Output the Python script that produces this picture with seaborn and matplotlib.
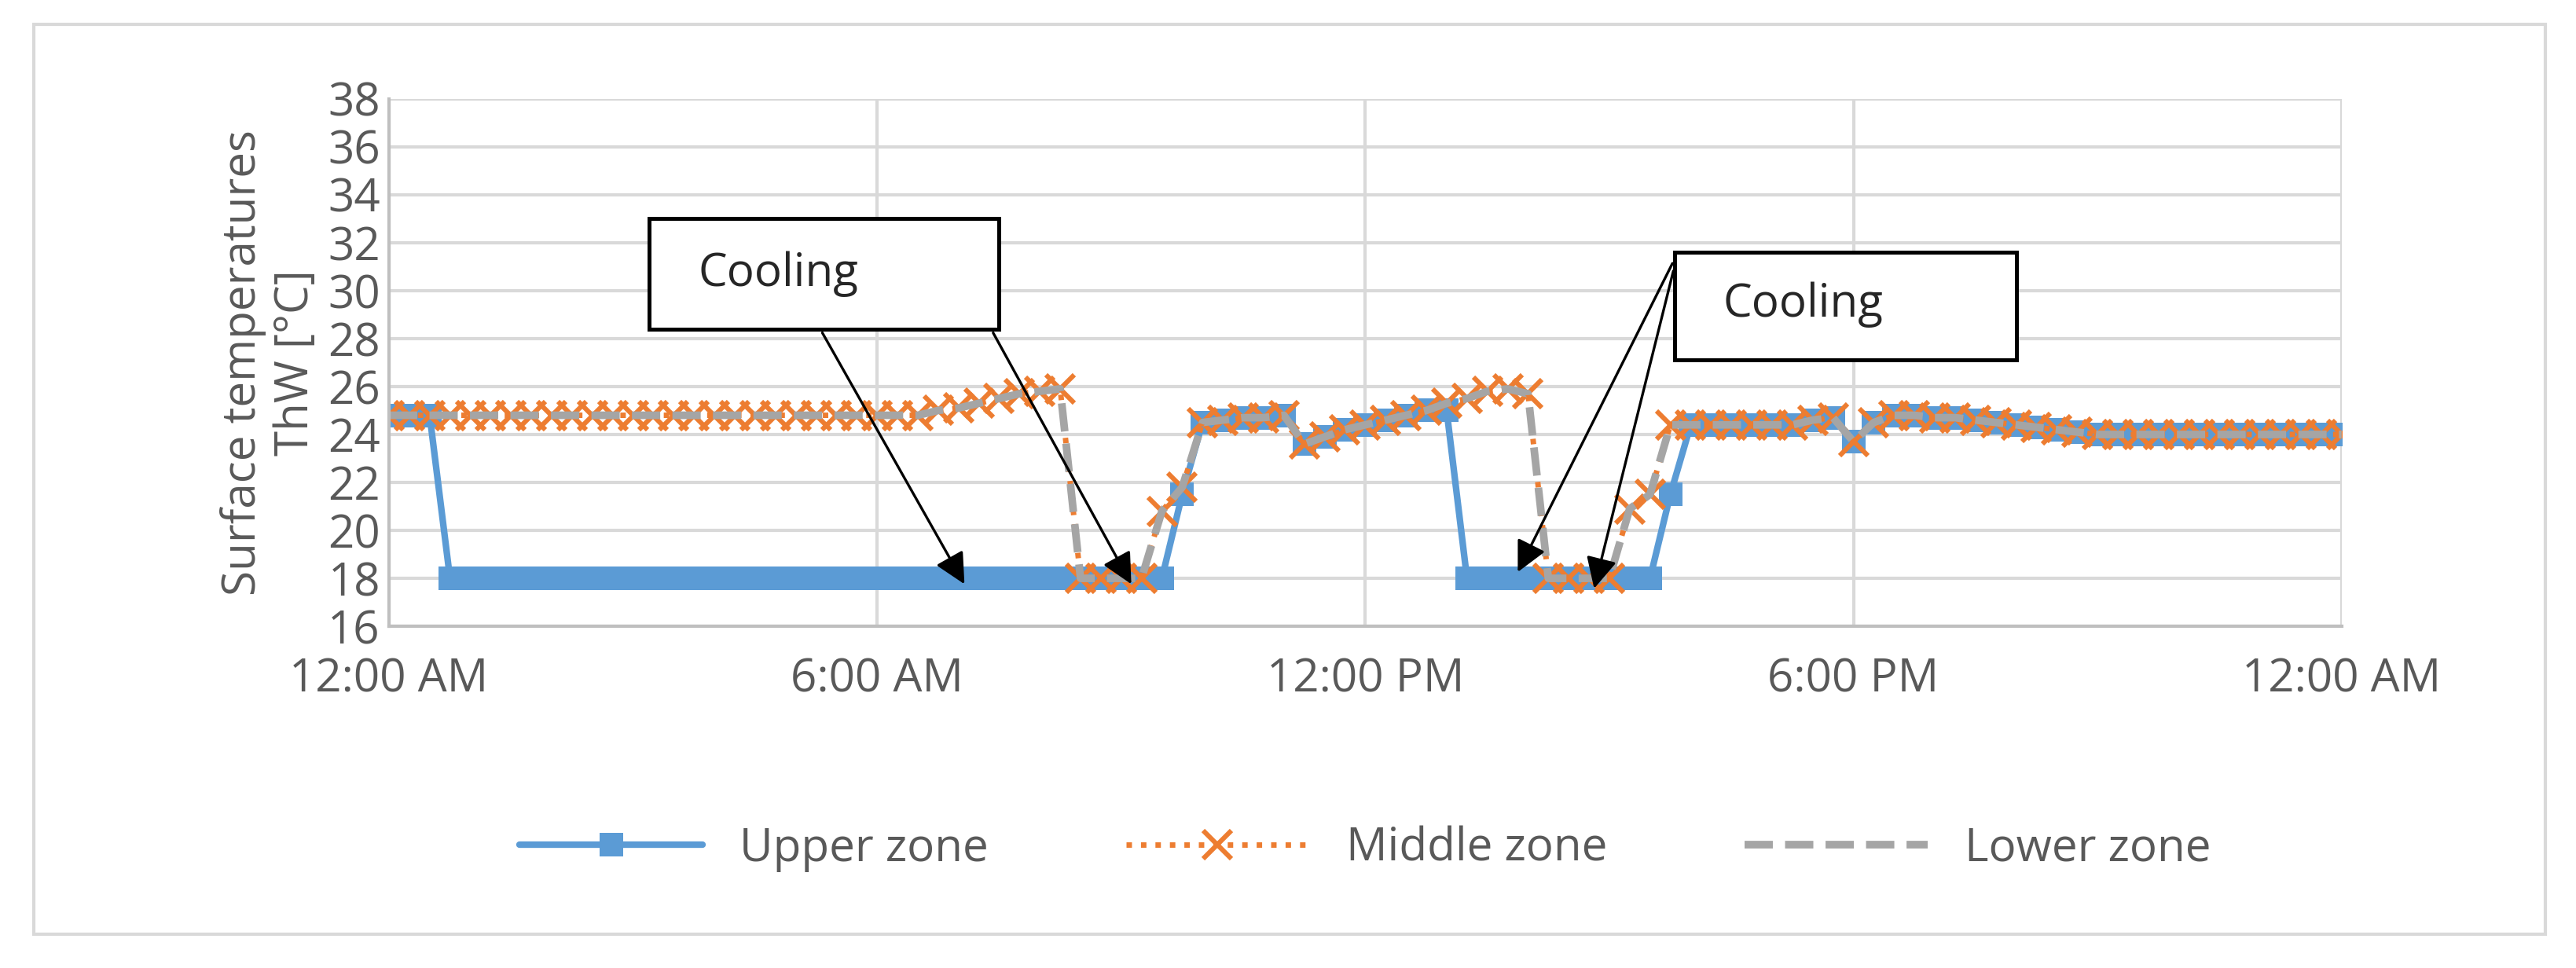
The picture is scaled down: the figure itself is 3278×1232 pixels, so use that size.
import numpy as np
import pandas as pd
import matplotlib.pyplot as plt
import seaborn as sns
from matplotlib.patches import Rectangle

# 15-minute steps over one day
hours = np.arange(97) * 0.25

middle = ([24.8] * 27
          + [25.0, 25.1, 25.3, 25.5, 25.7, 25.8, 25.9]
          + [18.0] * 4
          + [20.8, 21.8]
          + [24.5, 24.6, 24.7, 24.7, 24.8]
          + [23.6]
          + [23.9, 24.2, 24.4, 24.6, 24.8, 25.0]
          + [25.3]
          + [25.5, 25.8, 25.9, 25.7]
          + [18.0] * 4
          + [20.9, 21.5]
          + [24.4] * 7
          + [24.6, 24.7]
          + [23.7]
          + [24.5]
          + [24.8, 24.8, 24.7, 24.7, 24.6, 24.5]
          + [24.4, 24.3, 24.2, 24.1]
          + [24.0] * 13)

upper = [24.8] * 3 + [18.0] * 36 + [21.5] + middle[40:52] + [25.0] + [18.0] * 10 + [21.5] + middle[64:]
lower = list(middle)

df = pd.DataFrame({'hour': hours, 'Upper zone': upper, 'Middle zone': middle, 'Lower zone': lower})

sns.set_style('white')
plt.rcParams['font.family'] = ['Open Sans', 'DejaVu Sans']

fig = plt.figure(figsize=(16.39, 6.16), dpi=200)
ax = fig.add_axes([0.151, 0.353, 0.758, 0.545])

sns.lineplot(data=df, x='hour', y='Upper zone', ax=ax, color='#5B9BD5', lw=3,
             marker='s', markersize=11, markeredgewidth=0, label='Upper zone')
sns.lineplot(data=df, x='hour', y='Middle zone', ax=ax, color='#ED7D31', lw=2.5,
             linestyle=':', marker='x', markersize=13, markeredgewidth=2.2,
             markeredgecolor='#ED7D31', label='Middle zone')
sns.lineplot(data=df, x='hour', y='Lower zone', ax=ax, color='#A5A5A5', lw=3.5,
             linestyle='--', label='Lower zone')

ax.set_xlim(0, 24)
ax.set_ylim(16, 38)
ax.set_yticks(np.arange(16, 39, 2))
ax.set_xticks([0, 6, 12, 18, 24])
ax.set_xticklabels(['12:00 AM', '6:00 AM', '12:00 PM', '6:00 PM', '12:00 AM'])
ax.tick_params(axis='both', labelsize=21, colors='#595959', length=0)
ax.tick_params(axis='x', pad=14)
ax.tick_params(axis='y', pad=4)
ax.grid(True, color='#D9D9D9', lw=1.5)
for s in ['top', 'right']:
    ax.spines[s].set_visible(False)
for s in ['left', 'bottom']:
    ax.spines[s].set_color('#BFBFBF')
    ax.spines[s].set_linewidth(1.5)
ax.set_xlabel('')
ax.set_ylabel('Surface temperatures\nThW [°C]', fontsize=21, color='#595959', labelpad=4)

# annotation boxes
for x0, y0, x1, y1 in [(3.2, 28.4, 7.5, 33.0), (15.8, 27.1, 20.0, 31.6)]:
    ax.add_patch(Rectangle((x0, y0), x1 - x0, y1 - y0, fill=True, facecolor='white',
                           edgecolor='black', lw=1.8, zorder=5))
ax.text(3.8, 30.7, 'Cooling', fontsize=21, va='center', zorder=6)
ax.text(16.4, 29.4, 'Cooling', fontsize=21, va='center', zorder=6)

arrows = [((5.3, 28.4), (7.1, 17.6)), ((7.4, 28.4), (9.15, 17.6)),
          ((15.8, 31.3), (13.85, 18.1)), ((15.8, 31.0), (14.8, 17.4))]
for start, end in arrows:
    ax.annotate('', xy=end, xytext=start, zorder=6,
                arrowprops=dict(arrowstyle='-|>', color='black', lw=1.2, mutation_scale=30))

leg = ax.legend(loc='upper center', bbox_to_anchor=(0.5, -0.3), ncol=3, frameon=False,
                fontsize=21, handlelength=4, columnspacing=3)
for t in leg.get_texts():
    t.set_color('#595959')

fig.patches.append(Rectangle((0.013, 0.035), 0.975, 0.94, transform=fig.transFigure,
                             fill=False, edgecolor='#D9D9D9', lw=1.5))

fig.savefig('out.png', dpi=200)
